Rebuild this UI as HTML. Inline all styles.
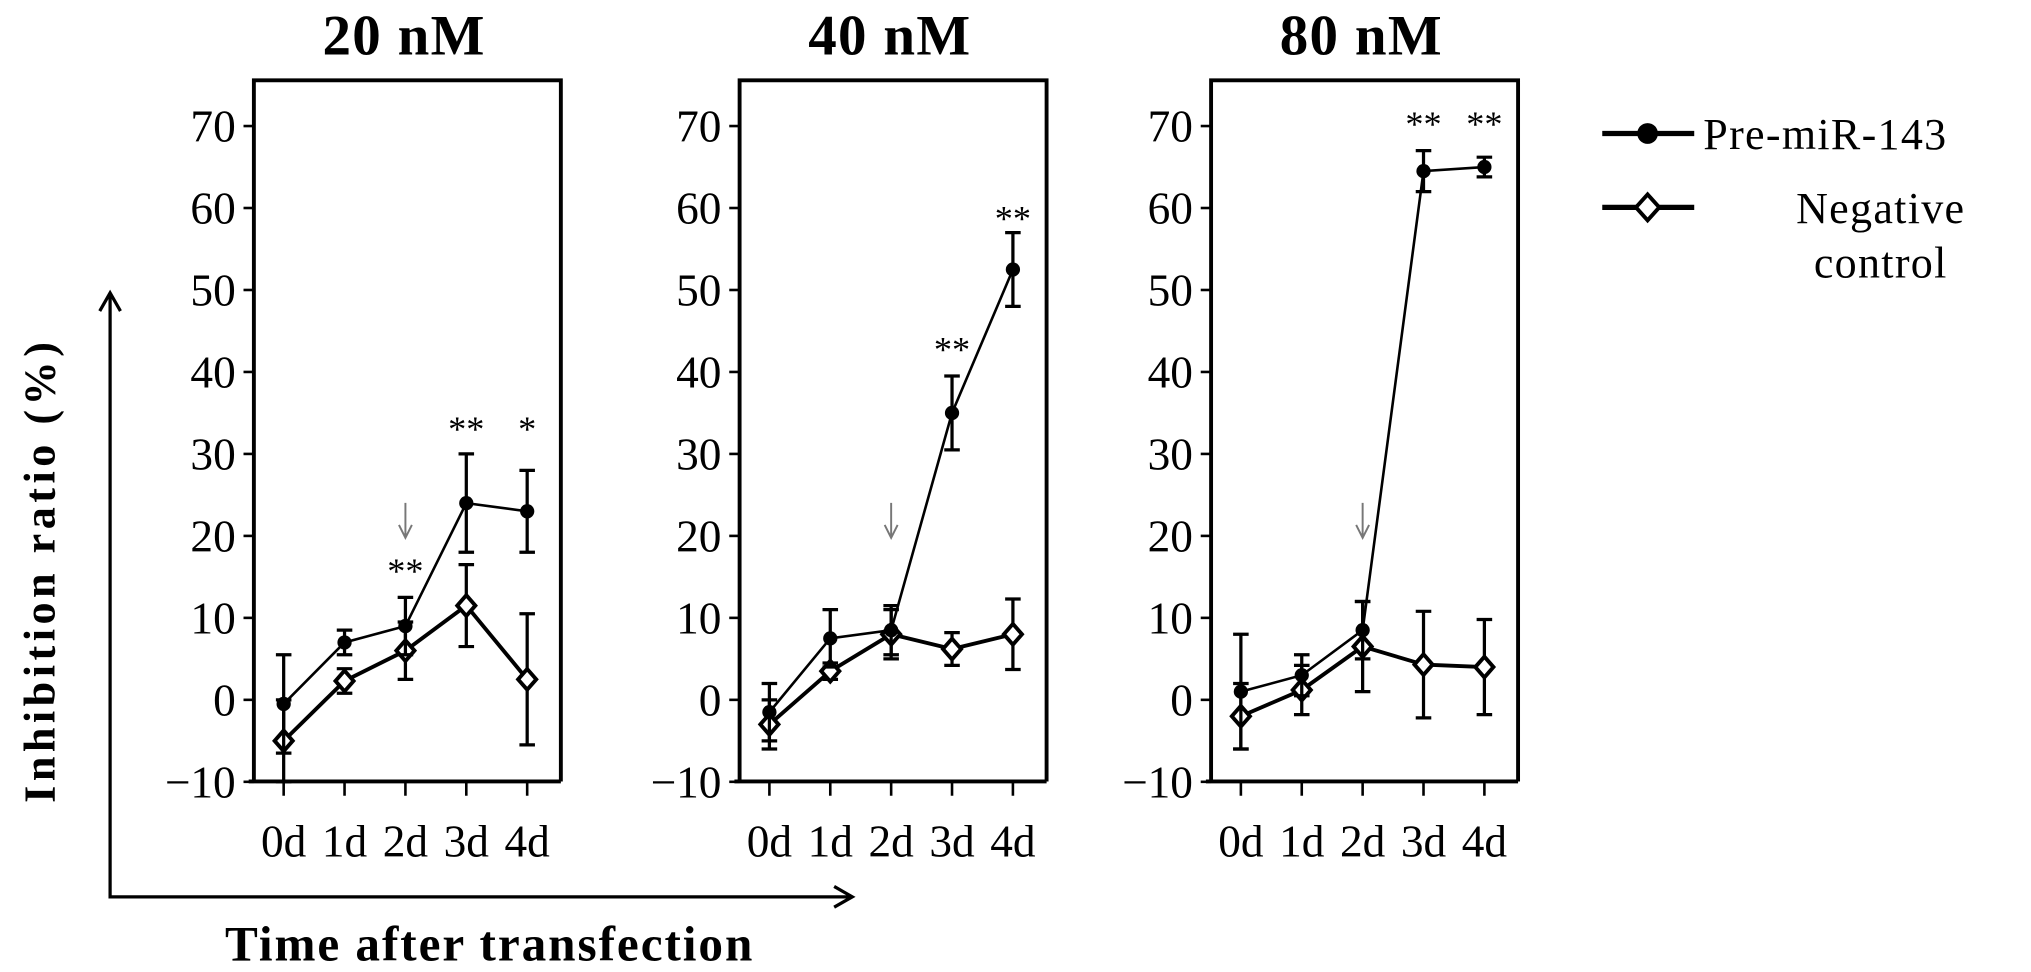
<!DOCTYPE html>
<html><head><meta charset="utf-8"><style>
html,body{margin:0;padding:0;background:#fff;width:2031px;height:972px;overflow:hidden}
svg{display:block}
text{font-family:"Liberation Serif",serif;fill:#000}
</style></head><body>
<svg id="c" width="2031" height="972" viewBox="0 0 1568 750" preserveAspectRatio="none" xmlns="http://www.w3.org/2000/svg"></svg>
<script>
const categories=["0d","1d","2d","3d","4d"];
const panelTitles=["20 nM","40 nM","80 nM"];
const yTicks=[-10,0,10,20,30,40,50,60,70];
const pre20=[-0.5,7,9,24,23], pre20Err=[6,1.5,3.5,6,5];
const neg20=[-5,2.3,6,11.5,2.5], neg20Err=[5,1.5,3.5,5,8];
const pre40=[-1.5,7.5,8.5,35,52.5], pre40Err=[3.5,3.5,3,4.5,4.5];
const neg40=[-3,3.5,8,6.2,8], neg40Err=[3,1,3,2,4.3];
const pre80=[1,3,8.5,64.5,65], pre80Err=[7,2.5,3.5,2.5,1.2];
const neg80=[-2,1.2,6.5,4.3,4], neg80Err=[4,3,5.5,6.5,5.8];
const stars20=["","","**","**","*"], stars40=["","","","**","**"], stars80=["","","","**","**"];
const starY20=[null,null,16.8,34.1,34.1], starY40=[null,null,null,43.8,59.8], starY80=[null,null,null,71.3,71.3];

const svg=document.getElementById('c');
const NS="http://www.w3.org/2000/svg";
function mk(tag,attrs,parent,txt){const e=document.createElementNS(NS,tag);for(const k in attrs)e.setAttribute(k,attrs[k]);if(txt!==undefined)e.textContent=txt;(parent||svg).appendChild(e);return e;}
const y=v=>540-v*6.325;
const panels=[
 {left:196,pre:pre20,preE:pre20Err,neg:neg20,negE:neg20Err,stars:stars20,sy:starY20},
 {left:571,pre:pre40,preE:pre40Err,neg:neg40,negE:neg40Err,stars:stars40,sy:starY40},
 {left:935,pre:pre80,preE:pre80Err,neg:neg80,negE:neg80Err,stars:stars80,sy:starY80}];
panels.forEach((p,pi)=>{
 const g=mk('g',{});
 
 
 const x=i=>p.left+23+i*47;
 const t=mk('text',{x:p.left+116,y:42,'text-anchor':'middle','font-size':44,'font-weight':'bold','letter-spacing':'1'},g,panelTitles[pi]);
 
 const fr=mk('path',{d:`M${p.left},603 V62 H${p.left+237} V603`,fill:'none',stroke:'#000','stroke-width':3},g);
 
 mk('line',{x1:p.left-4,x2:p.left+237,y1:603,y2:603,stroke:'#000','stroke-width':3},g);
 yTicks.forEach(v=>{
  mk('line',{x1:p.left-8,x2:p.left,y1:y(v),y2:y(v),stroke:'#000','stroke-width':2},g);
  const l=mk('text',{x:p.left-14,y:y(v)+12,'text-anchor':'end','font-size':35},g,v<0?'\u2212'+(-v):v);
  
 });
 categories.forEach((c,i)=>{
  mk('line',{x1:x(i),x2:x(i),y1:603,y2:614,stroke:'#000','stroke-width':2},g);
  const l=mk('text',{x:x(i),y:661,'text-anchor':'middle','font-size':35},g,c);
  
 });
 const ax=x(2);
 mk('path',{d:`M${ax},388 V415 M${ax-5},405 L${ax},415 L${ax+5},405`,stroke:'#777','stroke-width':1.5,fill:'none'},g);
 [[p.neg,p.negE,'neg',3],[p.pre,p.preE,'pre',2]].forEach(([vals,errs,nm,sw])=>{
  const pts=vals.map((v,i)=>x(i)+','+y(v)).join(' ');
  const pl=mk('polyline',{points:pts,fill:'none',stroke:'#000','stroke-width':sw},g);
  
  vals.forEach((v,i)=>{
   const e=errs[i];
   mk('path',{d:`M${x(i)},${y(v+e)} V${y(v-e)} M${x(i)-6},${y(v+e)} H${x(i)+6} M${x(i)-6},${y(v-e)} H${x(i)+6}`,stroke:'#000','stroke-width':2.5,fill:'none'},g);
   let m;
   if(nm==='pre'){m=mk('circle',{cx:x(i),cy:y(v),r:5.5,fill:'#000'},g);}
   else{m=mk('path',{d:`M${x(i)},${y(v)-8} L${x(i)+7},${y(v)} L${x(i)},${y(v)+8} L${x(i)-7},${y(v)} Z`,fill:'#fff',stroke:'#000','stroke-width':3},g);}
   
  });
 });
 p.stars.forEach((s,i)=>{ if(!s)return;
  const st=mk('text',{x:x(i),y:y(p.sy[i])+16,'text-anchor':'middle','font-size':28,'font-family':'Liberation Sans, sans-serif'},g,s);
  
 });
});
const ya=mk('path',{d:'M85,228 V692 H656 M77,240 L85,226 L93,240 M644,684 L658,692 L644,700',fill:'none',stroke:'#000','stroke-width':2.5});

const yt=mk('text',{x:0,y:0,transform:'translate(42,440) rotate(-90)','text-anchor':'middle','font-size':34,'font-weight':'bold','letter-spacing':'3.5'},svg,'Inhibition ratio (%)');

const xt=mk('text',{x:378,y:741,'text-anchor':'middle','font-size':38,'font-weight':'bold','letter-spacing':'1.5'},svg,'Time after transfection');

const lg=mk('g',{});

mk('line',{x1:1237,x2:1308,y1:103,y2:103,stroke:'#000','stroke-width':4},lg);
mk('circle',{cx:1272,cy:103,r:8,fill:'#000'},lg);
const l1=mk('text',{x:1315,y:115,'font-size':34,'letter-spacing':'1'},lg,'Pre-miR-143');

mk('line',{x1:1237,x2:1308,y1:160,y2:160,stroke:'#000','stroke-width':4},lg);
mk('path',{d:'M1272,150 L1281,160 L1272,170 L1263,160 Z',fill:'#fff',stroke:'#000','stroke-width':3},lg);
const l2=mk('text',{x:1452,y:172,'text-anchor':'middle','font-size':34,'letter-spacing':'1'},lg,'Negative');

mk('text',{x:1452,y:214,'text-anchor':'middle','font-size':34,'letter-spacing':'1'},lg,'control');
</script>
</body></html>
